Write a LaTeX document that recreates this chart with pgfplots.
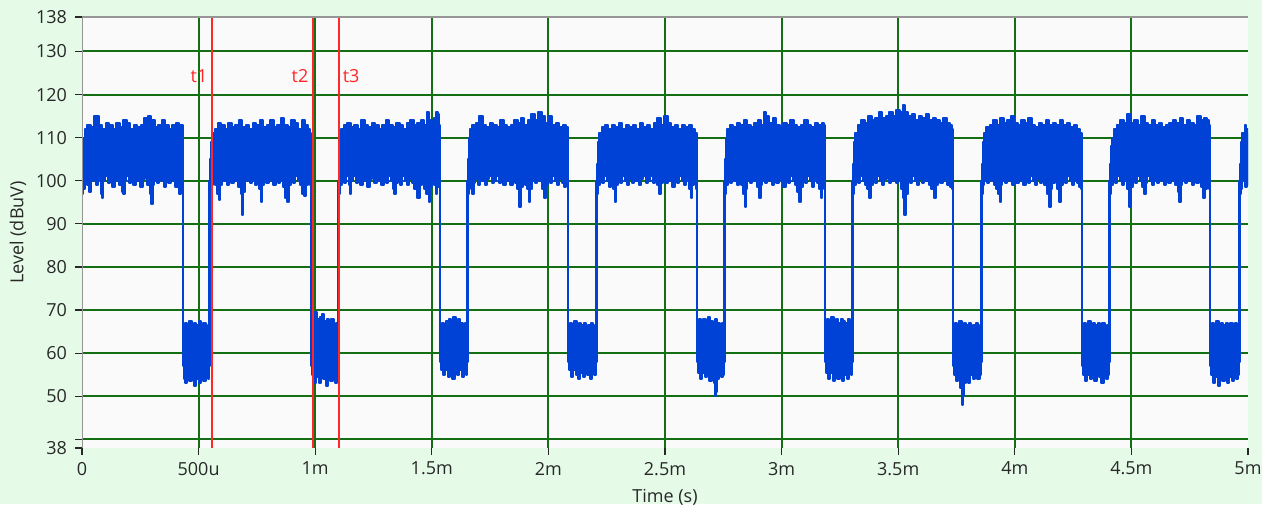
\documentclass[border=0pt]{standalone}
\usepackage{fontspec}
\setmainfont{Open Sans}
\usepackage{pgfplots}
\usepackage{pgfplotstable}
\pgfplotsset{compat=1.18}
\definecolor{bgmint}{RGB}{229,251,232}
\definecolor{plotbg}{RGB}{250,250,250}
\definecolor{gridgreen}{RGB}{20,110,20}
\definecolor{sigblue}{RGB}{0,66,214}
\definecolor{curred}{RGB}{255,40,40}
\definecolor{framegray}{RGB}{150,150,150}
\definecolor{tickcol}{RGB}{40,40,40}
% upper envelope of the signal
\pgfplotstableread[row sep=\\]{x y\\
0 107\\ 0.008 110\\ 0.016 112\\ 0.03 113\\ 0.045 112.5\\ 0.055 115\\ 0.07 115\\ 0.08 113\\ 0.095 112\\ 0.11 113.5\\ 0.125 113\\ 0.14 112\\ 0.155 113.5\\ 0.17 112.5\\ 0.185 114\\ 0.2 113.5\\ 0.215 112\\ 0.23 113\\ 0.245 112.5\\ 0.26 113\\ 0.275 114.5\\ 0.29 115\\ 0.305 114\\ 0.32 112.5\\ 0.335 113\\ 0.35 114\\ 0.365 113\\ 0.38 112\\ 0.395 113\\ 0.41 113.5\\ 0.425 113\\ 0.433 113\\
0.435 66\\ 0.445 67\\ 0.455 66.5\\ 0.465 67.5\\ 0.475 66\\ 0.485 67\\ 0.495 66.5\\ 0.505 67.5\\ 0.515 66\\ 0.525 67\\ 0.535 66\\ 0.545 66.5\\ 0.547 100\\
0.549 105\\ 0.555 109\\ 0.562 111\\ 0.575 112\\ 0.59 113.5\\ 0.605 113\\ 0.62 112\\ 0.635 113.5\\ 0.65 112.5\\ 0.665 113\\ 0.68 114\\ 0.695 112.5\\ 0.71 113\\ 0.725 112\\ 0.74 113.5\\ 0.755 113\\ 0.77 114\\ 0.785 112.5\\ 0.8 113\\ 0.815 114\\ 0.83 112.5\\ 0.845 113\\ 0.86 114.5\\ 0.875 113\\ 0.89 112.5\\ 0.905 114\\ 0.92 113.5\\ 0.935 112\\ 0.95 114\\ 0.965 113\\ 0.975 112\\ 0.98 111\\
0.984 68\\ 0.994 69\\ 1.004 69.5\\ 1.014 68\\ 1.024 68.5\\ 1.034 69\\ 1.044 67.5\\ 1.054 68\\ 1.064 67\\ 1.074 68\\ 1.084 66.5\\ 1.094 67\\ 1.099 66\\ 1.1 100\\
1.102 106\\ 1.108 110\\ 1.115 112\\ 1.13 113\\ 1.145 113.5\\ 1.16 112.5\\ 1.175 113\\ 1.19 112\\ 1.205 114\\ 1.22 113\\ 1.235 112.5\\ 1.25 113.5\\ 1.265 113\\ 1.28 112\\ 1.295 113\\ 1.31 114\\ 1.325 113\\ 1.34 112.5\\ 1.355 113.5\\ 1.37 113\\ 1.385 112\\ 1.4 113.5\\ 1.415 114\\ 1.43 113\\ 1.445 113.5\\ 1.46 114\\ 1.475 113\\ 1.485 116\\ 1.495 114\\ 1.505 113\\ 1.515 114.5\\ 1.522 116\\ 1.53 115.5\\ 1.535 113\\
1.537 66\\ 1.547 67\\ 1.557 66.5\\ 1.567 67.5\\ 1.577 68\\ 1.587 67\\ 1.597 68.5\\ 1.607 67.5\\ 1.617 68\\ 1.627 67\\ 1.637 66.5\\ 1.647 67\\ 1.652 66\\ 1.653 100\\
1.655 105\\ 1.66 110\\ 1.668 112\\ 1.68 113\\ 1.695 113.5\\ 1.71 115\\ 1.725 113\\ 1.74 112.5\\ 1.755 113.5\\ 1.77 113\\ 1.785 112.5\\ 1.8 114\\ 1.815 113\\ 1.83 112.5\\ 1.845 113\\ 1.86 114\\ 1.875 113.5\\ 1.89 114.5\\ 1.905 113\\ 1.92 114\\ 1.935 115.5\\ 1.95 114\\ 1.965 116\\ 1.98 115\\ 1.995 113.5\\ 2.01 115\\ 2.025 113\\ 2.04 113.5\\ 2.055 112.5\\ 2.07 113\\ 2.08 112.5\\ 2.084 112\\
2.086 66\\ 2.096 67\\ 2.106 66.5\\ 2.116 67.5\\ 2.126 66\\ 2.136 67\\ 2.146 66.5\\ 2.156 67\\ 2.166 66\\ 2.176 66.5\\ 2.186 67\\ 2.196 66\\ 2.204 66.5\\ 2.206 100\\
2.208 104\\ 2.214 109\\ 2.222 111\\ 2.235 112.5\\ 2.25 113\\ 2.265 112\\ 2.28 113\\ 2.295 112.5\\ 2.31 113.5\\ 2.325 112\\ 2.34 113\\ 2.355 112.5\\ 2.37 113\\ 2.385 112\\ 2.4 113.5\\ 2.415 112.5\\ 2.43 113\\ 2.445 112\\ 2.46 113.5\\ 2.475 114.5\\ 2.49 113\\ 2.505 115\\ 2.52 113.5\\ 2.535 112.5\\ 2.55 113\\ 2.565 112\\ 2.58 113\\ 2.595 112.5\\ 2.61 113\\ 2.625 112\\ 2.635 111\\
2.639 67\\ 2.649 68\\ 2.659 67.5\\ 2.669 68\\ 2.679 67\\ 2.689 68.5\\ 2.699 67.5\\ 2.709 67\\ 2.719 68\\ 2.729 67\\ 2.739 66.5\\ 2.749 67\\ 2.753 66\\ 2.755 100\\
2.757 105\\ 2.762 110\\ 2.77 112\\ 2.785 113\\ 2.8 112.5\\ 2.815 113.5\\ 2.83 113\\ 2.845 114\\ 2.86 113\\ 2.875 112.5\\ 2.89 113.5\\ 2.905 114\\ 2.92 113\\ 2.93 116\\ 2.94 115\\ 2.955 113.5\\ 2.97 114.5\\ 2.985 113\\ 3.0 112.5\\ 3.015 113.5\\ 3.03 113\\ 3.045 114\\ 3.06 113\\ 3.075 112.5\\ 3.09 113\\ 3.105 114\\ 3.12 113\\ 3.135 112.5\\ 3.15 113.5\\ 3.165 113\\ 3.18 113.5\\ 3.186 113\\
3.188 67\\ 3.198 68\\ 3.208 67\\ 3.218 68.5\\ 3.228 67.5\\ 3.238 68\\ 3.248 67\\ 3.258 68\\ 3.268 67.5\\ 3.278 67\\ 3.288 68\\ 3.298 67\\ 3.302 66\\ 3.304 100\\
3.306 104\\ 3.311 109\\ 3.32 111\\ 3.335 113\\ 3.35 114\\ 3.365 113.5\\ 3.38 115\\ 3.395 114\\ 3.41 114.5\\ 3.425 116\\ 3.44 114.5\\ 3.455 115\\ 3.47 116\\ 3.485 115\\ 3.5 116.5\\ 3.515 116\\ 3.525 117.5\\ 3.535 116\\ 3.55 115\\ 3.565 115.5\\ 3.58 114\\ 3.595 115\\ 3.61 114.5\\ 3.625 115.5\\ 3.64 114\\ 3.655 114.5\\ 3.67 114\\ 3.685 113.5\\ 3.7 114.5\\ 3.715 113.5\\ 3.728 113\\ 3.735 112\\
3.737 66\\ 3.747 67\\ 3.757 66.5\\ 3.767 67.5\\ 3.777 66\\ 3.787 67\\ 3.797 66.5\\ 3.807 67\\ 3.817 66\\ 3.827 66.5\\ 3.837 67\\ 3.847 66\\ 3.855 66.5\\ 3.857 100\\
3.859 104\\ 3.864 109\\ 3.872 111\\ 3.885 112.5\\ 3.9 113\\ 3.915 114\\ 3.93 113\\ 3.945 114.5\\ 3.96 113.5\\ 3.975 114\\ 3.99 115\\ 4.005 113.5\\ 4.02 113\\ 4.035 114\\ 4.05 113.5\\ 4.065 114.5\\ 4.08 113\\ 4.095 112.5\\ 4.11 113.5\\ 4.125 113\\ 4.14 114\\ 4.155 113\\ 4.17 113.5\\ 4.185 113\\ 4.2 114\\ 4.215 113\\ 4.23 113.5\\ 4.245 112.5\\ 4.26 113\\ 4.275 112\\ 4.285 111\\ 4.288 110\\
4.29 66\\ 4.30 67\\ 4.31 66.5\\ 4.32 67.5\\ 4.33 66\\ 4.34 67\\ 4.35 66.5\\ 4.36 67\\ 4.37 66\\ 4.38 67\\ 4.39 66\\ 4.40 66.5\\ 4.404 66\\ 4.406 100\\
4.408 104\\ 4.413 108\\ 4.42 110\\ 4.43 112\\ 4.445 113\\ 4.46 114\\ 4.475 113.5\\ 4.49 115.5\\ 4.505 113.5\\ 4.52 114\\ 4.535 113\\ 4.55 115\\ 4.565 113.5\\ 4.58 113\\ 4.595 114\\ 4.61 113\\ 4.625 113.5\\ 4.64 112.5\\ 4.655 113\\ 4.67 113.5\\ 4.685 114\\ 4.7 113.5\\ 4.715 114.5\\ 4.73 113\\ 4.745 114\\ 4.76 113.5\\ 4.775 113\\ 4.79 115\\ 4.805 114\\ 4.82 114.5\\ 4.83 114\\ 4.837 113\\
4.839 66\\ 4.849 67\\ 4.859 66.5\\ 4.869 67.5\\ 4.879 66\\ 4.889 67\\ 4.899 66.5\\ 4.909 67\\ 4.919 66\\ 4.929 67\\ 4.939 66.5\\ 4.949 67\\ 4.959 66\\ 4.963 66\\ 4.964 100\\
4.966 104\\ 4.972 109\\ 4.98 111\\ 4.99 113\\ 4.997 112\\ 5.0 111\\
}\Utab
% lower envelope of the signal
\pgfplotstableread[row sep=\\]{x y\\
0 97\\ 0.008 98\\ 0.016 101\\ 0.025 99\\ 0.035 97.5\\ 0.045 100\\ 0.055 101\\ 0.065 99\\ 0.075 100.5\\ 0.085 97\\ 0.088 96\\ 0.092 100\\ 0.105 101\\ 0.115 99.5\\ 0.125 100.5\\ 0.135 98.5\\ 0.145 101\\ 0.155 100\\ 0.165 99\\ 0.175 97.5\\ 0.18 97\\ 0.185 100\\ 0.195 101\\ 0.205 99.5\\ 0.215 100.5\\ 0.225 99\\ 0.235 101\\ 0.245 100\\ 0.255 98.5\\ 0.265 100.5\\ 0.275 101\\ 0.285 99\\ 0.295 97\\ 0.3 94.5\\ 0.305 99\\ 0.315 100.5\\ 0.325 99.5\\ 0.335 101\\ 0.345 100\\ 0.355 98.5\\ 0.365 100.5\\ 0.375 99.5\\ 0.385 101\\ 0.395 100\\ 0.405 98.5\\ 0.415 99\\ 0.42 97\\ 0.425 98\\ 0.431 100\\
0.433 99\\ 0.435 57\\ 0.44 54\\ 0.445 53\\ 0.455 55\\ 0.465 53.5\\ 0.475 54.5\\ 0.485 52.5\\ 0.495 54\\ 0.505 53\\ 0.515 55\\ 0.525 53.5\\ 0.535 55.5\\ 0.545 54\\ 0.547 57\\
0.549 97\\ 0.555 99\\ 0.565 100.5\\ 0.575 99\\ 0.585 97\\ 0.59 95.5\\ 0.595 99\\ 0.605 101\\ 0.615 100\\ 0.625 99\\ 0.635 100.5\\ 0.645 99.5\\ 0.655 101\\ 0.665 100\\ 0.675 98.5\\ 0.685 97\\ 0.69 92\\ 0.695 97.5\\ 0.705 100\\ 0.715 101\\ 0.725 99.5\\ 0.735 100.5\\ 0.745 99\\ 0.755 101\\ 0.765 98\\ 0.77 95\\ 0.775 99\\ 0.785 100.5\\ 0.795 99.5\\ 0.805 101\\ 0.815 100\\ 0.825 99\\ 0.835 100.5\\ 0.845 99.5\\ 0.855 100\\ 0.865 98.5\\ 0.875 96\\ 0.885 95\\ 0.89 99\\ 0.9 100.5\\ 0.91 99.5\\ 0.92 101\\ 0.93 100\\ 0.94 99\\ 0.95 97\\ 0.956 96.5\\ 0.962 99\\ 0.972 100\\ 0.98 99\\
0.982 98\\ 0.984 57\\ 0.99 55\\ 1.0 53\\ 1.01 54.5\\ 1.02 53\\ 1.03 55\\ 1.04 54\\ 1.05 52.5\\ 1.06 54\\ 1.07 53.5\\ 1.08 55\\ 1.09 53\\ 1.098 54\\ 1.1 57\\
1.102 97\\ 1.108 99\\ 1.118 100.5\\ 1.128 99.5\\ 1.138 101\\ 1.148 99\\ 1.153 97\\ 1.158 100\\ 1.168 101\\ 1.178 99.5\\ 1.188 100.5\\ 1.198 99\\ 1.208 101\\ 1.218 100\\ 1.228 98.5\\ 1.238 100.5\\ 1.248 101\\ 1.258 99.5\\ 1.268 100\\ 1.278 101\\ 1.288 99\\ 1.298 100.5\\ 1.308 99.5\\ 1.318 101\\ 1.328 100\\ 1.338 98\\ 1.342 97\\ 1.348 99.5\\ 1.358 100.5\\ 1.368 99\\ 1.378 101\\ 1.388 100\\ 1.398 99\\ 1.408 100.5\\ 1.418 99.5\\ 1.428 98\\ 1.445 96\\ 1.452 99\\ 1.462 100\\ 1.472 98\\ 1.482 97\\ 1.49 95\\ 1.495 98.5\\ 1.505 100\\ 1.512 99\\ 1.52 97\\ 1.528 98.5\\ 1.533 99\\
1.535 98\\ 1.537 58\\ 1.543 56\\ 1.553 55\\ 1.563 56\\ 1.573 54.5\\ 1.583 55.5\\ 1.593 54\\ 1.603 55.5\\ 1.613 55\\ 1.623 56\\ 1.633 54.5\\ 1.643 55.5\\ 1.651 55\\ 1.653 58\\
1.655 97\\ 1.662 99\\ 1.672 98\\ 1.677 97\\ 1.682 99.5\\ 1.692 100.5\\ 1.702 99\\ 1.712 101\\ 1.722 100\\ 1.732 99\\ 1.742 100.5\\ 1.752 101\\ 1.762 99.5\\ 1.772 100\\ 1.782 101\\ 1.792 99.5\\ 1.802 100.5\\ 1.812 99\\ 1.822 101\\ 1.832 100\\ 1.842 99\\ 1.852 100.5\\ 1.862 99.5\\ 1.872 98\\ 1.878 94\\ 1.884 98.5\\ 1.894 100\\ 1.904 99\\ 1.914 98\\ 1.92 95\\ 1.926 98\\ 1.936 100\\ 1.946 99.5\\ 1.956 101\\ 1.966 100\\ 1.976 98\\ 1.985 96\\ 1.992 99\\ 2.002 100.5\\ 2.012 99.5\\ 2.022 101\\ 2.032 100\\ 2.042 99\\ 2.052 100.5\\ 2.062 99.5\\ 2.072 98.5\\ 2.082 99\\
2.084 98\\ 2.086 58\\ 2.092 56\\ 2.102 54.5\\ 2.112 56\\ 2.122 55\\ 2.132 54\\ 2.142 55.5\\ 2.152 54.5\\ 2.162 56\\ 2.172 55\\ 2.182 54\\ 2.192 55.5\\ 2.202 55\\ 2.206 58\\
2.208 97\\ 2.215 99\\ 2.225 100.5\\ 2.235 99.5\\ 2.245 101\\ 2.255 100\\ 2.265 98.5\\ 2.275 100.5\\ 2.283 98\\ 2.287 95\\ 2.292 99\\ 2.302 100.5\\ 2.312 99.5\\ 2.322 101\\ 2.332 100\\ 2.342 99\\ 2.352 100.5\\ 2.362 99.5\\ 2.372 101\\ 2.382 100\\ 2.392 99\\ 2.402 100.5\\ 2.412 101\\ 2.422 99.5\\ 2.432 100\\ 2.442 101\\ 2.452 99.5\\ 2.462 100.5\\ 2.472 99\\ 2.48 97\\ 2.487 99.5\\ 2.497 100.5\\ 2.507 99.5\\ 2.517 101\\ 2.527 100\\ 2.537 98.5\\ 2.547 100.5\\ 2.557 99.5\\ 2.567 101\\ 2.577 100\\ 2.587 99\\ 2.597 100.5\\ 2.607 98\\ 2.612 96\\ 2.618 99\\ 2.628 99.5\\ 2.635 98\\
2.637 97\\ 2.639 58\\ 2.645 55.5\\ 2.655 54\\ 2.665 55.5\\ 2.675 54.5\\ 2.685 55\\ 2.695 53.5\\ 2.705 55\\ 2.712 53\\ 2.716 50\\ 2.72 51\\ 2.725 54\\ 2.735 55\\ 2.745 54.5\\ 2.753 55\\ 2.755 58\\
2.757 97\\ 2.763 99\\ 2.773 100.5\\ 2.783 99.5\\ 2.793 101\\ 2.803 100\\ 2.813 99\\ 2.823 100.5\\ 2.833 99\\ 2.84 97\\ 2.843 94\\ 2.848 98\\ 2.858 100\\ 2.868 99.5\\ 2.878 101\\ 2.888 100\\ 2.898 98.5\\ 2.907 96\\ 2.913 99\\ 2.923 100.5\\ 2.933 99.5\\ 2.943 101\\ 2.953 100\\ 2.963 99\\ 2.973 100.5\\ 2.983 99.5\\ 2.993 101\\ 3.003 100\\ 3.013 98.5\\ 3.023 100.5\\ 3.033 99.5\\ 3.043 101\\ 3.053 100\\ 3.063 99\\ 3.073 97.5\\ 3.08 95\\ 3.086 98.5\\ 3.096 100\\ 3.106 99.5\\ 3.116 101\\ 3.126 100\\ 3.136 98.5\\ 3.146 100.5\\ 3.156 99.5\\ 3.166 98\\ 3.17 96\\ 3.176 99\\ 3.184 98\\
3.186 97\\ 3.188 58\\ 3.194 55.5\\ 3.204 54\\ 3.214 55.5\\ 3.224 53.5\\ 3.234 55\\ 3.244 54\\ 3.254 55.5\\ 3.264 53.5\\ 3.274 55\\ 3.284 54\\ 3.294 55.5\\ 3.302 55\\ 3.304 58\\
3.306 97\\ 3.312 99\\ 3.322 100.5\\ 3.332 99.5\\ 3.342 101\\ 3.352 100\\ 3.362 99\\ 3.372 98\\ 3.379 96\\ 3.385 99\\ 3.395 100.5\\ 3.405 99.5\\ 3.415 101\\ 3.425 100\\ 3.435 99\\ 3.445 100.5\\ 3.455 101\\ 3.465 99.5\\ 3.475 100\\ 3.485 101\\ 3.495 99.5\\ 3.505 100\\ 3.515 98\\ 3.522 96\\ 3.529 92\\ 3.535 97\\ 3.545 100\\ 3.555 99.5\\ 3.565 101\\ 3.575 100\\ 3.585 99\\ 3.595 100.5\\ 3.605 99.5\\ 3.615 101\\ 3.625 100\\ 3.635 99\\ 3.645 98\\ 3.658 96\\ 3.665 99\\ 3.675 100.5\\ 3.685 99.5\\ 3.695 101\\ 3.705 100\\ 3.715 99\\ 3.725 98.5\\ 3.733 98\\
3.735 97\\ 3.737 57\\ 3.743 55\\ 3.753 53.5\\ 3.763 54.5\\ 3.77 52\\ 3.775 48\\ 3.78 50\\ 3.785 53\\ 3.795 54.5\\ 3.805 53\\ 3.815 55\\ 3.825 54\\ 3.835 55.5\\ 3.845 54\\ 3.855 55\\ 3.857 58\\
3.859 97\\ 3.865 99\\ 3.875 100.5\\ 3.885 99.5\\ 3.895 101\\ 3.905 100\\ 3.915 99\\ 3.925 98\\ 3.933 97\\ 3.937 95\\ 3.942 99\\ 3.952 100.5\\ 3.962 99.5\\ 3.972 101\\ 3.982 100\\ 3.992 99\\ 4.002 100.5\\ 4.012 99.5\\ 4.022 101\\ 4.032 100\\ 4.042 99\\ 4.052 100.5\\ 4.062 99.5\\ 4.072 101\\ 4.082 100\\ 4.092 99\\ 4.102 100.5\\ 4.112 99.5\\ 4.122 101\\ 4.132 99\\ 4.142 97\\ 4.151 94\\ 4.156 98\\ 4.166 99.5\\ 4.176 100.5\\ 4.186 98\\ 4.194 95\\ 4.2 99\\ 4.21 100.5\\ 4.22 99.5\\ 4.23 101\\ 4.24 100\\ 4.25 99\\ 4.26 100\\ 4.27 99.5\\ 4.28 98.5\\ 4.286 98\\
4.288 97\\ 4.29 57\\ 4.296 55\\ 4.306 53.5\\ 4.316 55\\ 4.326 54\\ 4.336 55.5\\ 4.346 53.5\\ 4.356 55\\ 4.366 54.5\\ 4.376 53\\ 4.386 55\\ 4.396 54\\ 4.404 55\\ 4.406 58\\
4.408 97\\ 4.414 99\\ 4.424 100.5\\ 4.434 99.5\\ 4.444 101\\ 4.454 100\\ 4.464 99\\ 4.474 100.5\\ 4.484 98\\ 4.494 94\\ 4.5 98.5\\ 4.51 100.5\\ 4.52 99.5\\ 4.53 101\\ 4.54 100\\ 4.55 98.5\\ 4.558 97\\ 4.564 99.5\\ 4.574 101\\ 4.584 100\\ 4.594 99\\ 4.604 100.5\\ 4.614 99.5\\ 4.624 101\\ 4.634 100\\ 4.644 99\\ 4.654 100.5\\ 4.664 99.5\\ 4.674 101\\ 4.684 100\\ 4.694 99\\ 4.702 97.5\\ 4.708 95\\ 4.714 99\\ 4.724 100.5\\ 4.734 99.5\\ 4.744 101\\ 4.754 100\\ 4.764 99\\ 4.774 100.5\\ 4.784 99.5\\ 4.794 100\\ 4.804 98.5\\ 4.812 96\\ 4.818 98\\ 4.828 99.5\\ 4.835 98\\
4.837 97\\ 4.839 57\\ 4.845 55\\ 4.855 53\\ 4.865 54.5\\ 4.875 52.5\\ 4.885 54\\ 4.895 53.5\\ 4.905 55\\ 4.915 53\\ 4.925 54.5\\ 4.935 53.5\\ 4.945 55\\ 4.955 54\\ 4.962 55\\ 4.964 58\\
4.966 97\\ 4.972 98\\ 4.98 100\\ 4.99 98.5\\ 5.0 99\\
}\Ltab
\pgfplotstablesort[sort key=x, sort cmp=float >]{\Lrev}{\Ltab}
\pgfplotstablevertcat{\Utab}{\Lrev}
\begin{document}
\begin{tikzpicture}[font=\fontsize{9}{11}\selectfont]
\path[fill=bgmint, use as bounding box] (0,0) rectangle (631pt,252pt);
\begin{axis}[
  at={(41pt,28pt)}, anchor=south west,
  scale only axis, width=583pt, height=215.5pt,
  xmin=0, xmax=5, ymin=38, ymax=138,
  axis background/.style={fill=plotbg},
  axis line style={draw=none},
  xtick pos=bottom, ytick pos=left,
  xtick={0.5,1,1.5,2,2.5,3,3.5,4,4.5},
  xticklabels={500u,1m,1.5m,2m,2.5m,3m,3.5m,4m,4.5m},
  extra x ticks={0,5}, extra x tick labels={0,5m},
  ytick={40,50,60,70,80,90,100,110,120,130},
  yticklabels={,50,60,70,80,90,100,110,120,130},
  extra y ticks={38,138}, extra y tick labels={38,138},
  extra tick style={grid=none},
  grid=major, major grid style={gridgreen, line width=1pt},
  tick align=outside, major tick length=3.5pt,
  tick style={tickcol, line width=0.6pt},
  tick label style={text=tickcol, font=\fontsize{9}{11}\selectfont},
  yticklabel style={xshift=-0.5pt},
  xlabel={Time (s)}, ylabel={Level (dBuV)},
  xlabel style={at={(axis description cs:0.5,-0.1253)}, anchor=base, text=tickcol},
  ylabel style={at={(axis description cs:-0.0549,0.5)}, anchor=center, text=tickcol},
]
\addplot[const plot mark mid, fill=sigblue, draw=sigblue, line width=1pt, line join=round] table[x=x, y=y] {\Utab} -- cycle;
\addplot[curred, line width=1pt] coordinates {(0.558,38) (0.558,138)};
\addplot[curred, line width=1pt] coordinates {(0.991,38) (0.991,138)};
\addplot[curred, line width=1pt] coordinates {(1.103,38) (1.103,138)};
\node[curred, anchor=east, inner sep=1pt] at (axis cs:0.548,124.2) {t1};
\node[curred, anchor=east, inner sep=1pt] at (axis cs:0.981,124.2) {t2};
\node[curred, anchor=west, inner sep=1pt] at (axis cs:1.108,124.2) {t3};
\draw[framegray, line width=1pt] (rel axis cs:0,0) -- (rel axis cs:0,1) -- (rel axis cs:1,1);
\end{axis}
\end{tikzpicture}
\end{document}
